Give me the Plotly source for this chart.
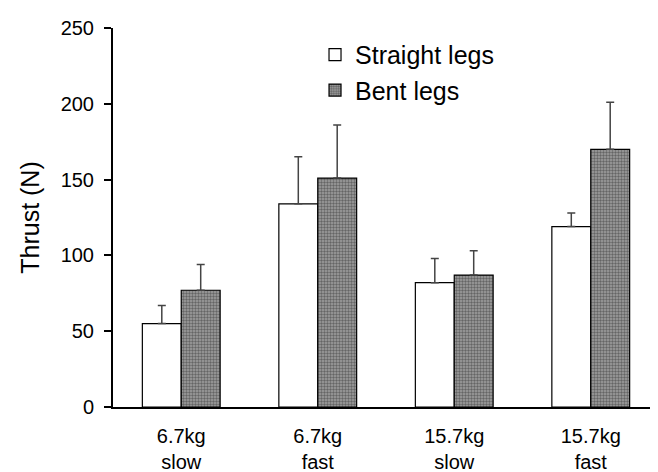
import plotly.graph_objects as go

categories = ["6.7kg<br>slow", "6.7kg<br>fast", "15.7kg<br>slow", "15.7kg<br>fast"]
straight = [55, 134, 82, 119]
straight_err = [12, 31, 16, 9]
bent = [77, 151, 87, 170]
bent_err = [17, 35, 16, 31]
y_ticks = [0, 50, 100, 150, 200, 250]

font = "Liberation Sans, Arial, sans-serif"

fig = go.Figure()
fig.add_trace(go.Bar(
    x=categories, y=straight, name="Straight legs",
    marker=dict(color="white", line=dict(color="black", width=1.2)),
    error_y=dict(type="data", symmetric=False, array=straight_err,
                 arrayminus=[0]*4, color="#444", thickness=1.5, width=4),
))
fig.add_trace(go.Bar(
    x=categories, y=bent, name="Bent legs",
    marker=dict(color="#8c8c8c", line=dict(color="black", width=1.2),
                pattern=dict(shape=".", fgcolor="#2a2a2a", bgcolor="#a0a0a0",
                             size=3, solidity=0.5)),
    error_y=dict(type="data", symmetric=False, array=bent_err,
                 arrayminus=[0]*4, color="#444", thickness=1.5, width=4),
))

fig.update_layout(
    width=658, height=472,
    margin=dict(l=105, r=7, t=20, b=71),
    paper_bgcolor="white", plot_bgcolor="white",
    barmode="group", bargap=0.43, bargroupgap=0,
    font=dict(family=font, size=20, color="black"),
    showlegend=True,
    legend=dict(x=0.37, y=0.99, xanchor="left", yanchor="top",
                font=dict(size=25), bgcolor="rgba(0,0,0,0)",
                tracegroupgap=0, itemwidth=30),
    xaxis=dict(range=[-0.5, 3.5], showline=True, linecolor="black",
               linewidth=2, ticks="", showgrid=False, zeroline=False,
               ticklabelstandoff=10, tickfont=dict(size=20)),
    yaxis=dict(range=[0, 250], tickvals=y_ticks, showline=True,
               linecolor="black", linewidth=2, ticks="outside",
               ticklen=7, tickwidth=1.5, tickcolor="black",
               showgrid=False, zeroline=False, ticklabelstandoff=6,
               title=dict(text="Thrust (N)", font=dict(size=25), standoff=14),
               tickfont=dict(size=20)),
)

fig.write_html("out.html")
